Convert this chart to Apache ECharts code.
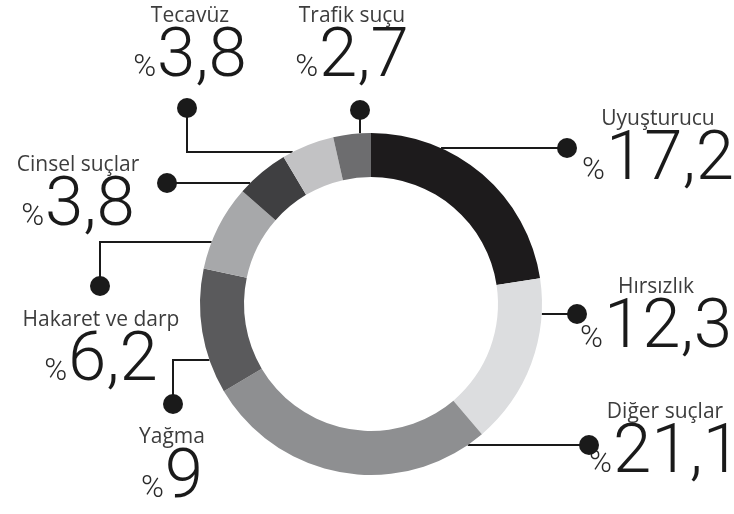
<!DOCTYPE html>
<html>
<head>
<meta charset="utf-8">
<script src="https://cdn.jsdelivr.net/npm/echarts@6/dist/echarts.min.js"></script>
<style>
  html, body { margin: 0; padding: 0; background: #fff; }
  #chart { width: 734px; height: 514px; }
</style>
</head>
<body>
<div id="chart"></div>
<script>
const categories = ['Uyuşturucu', 'Hırsızlık', 'Diğer suçlar', 'Yağma', 'Hakaret ve darp', 'Cinsel suçlar', 'Tecavüz', 'Trafik suçu']
const values = [17.2, 12.3, 21.1, 9, 6.2, 3.8, 3.8, 2.7]
const sliceColors = ['#1d1b1c', '#dcdddf', '#8e8f91', '#5a5a5c', '#a7a8aa', '#3f3f41', '#c2c2c4', '#6d6d6f']

const center = [371, 304]
const outerR = 171
const innerR = 127

// callout layout per slice
// lead: ['h', y, side] -> horizontal line at y meeting the ring on side (1 right, -1 left)
//       ['v', x]       -> vertical line at x meeting the ring at the top
// elbow: optional corner, dot: end of the line, text: [centre x, top y] of the text block
const callouts = [
  { lead: ['h', 148, 1], dot: [567, 148], text: [658, 106] },
  { lead: ['h', 314, 1], dot: [577, 314], text: [656, 274] },
  { lead: ['h', 445, 1], dot: [589, 445], text: [665, 399] },
  { lead: ['h', 360, -1], elbow: [173, 360], dot: [173, 404], text: [172, 424] },
  { lead: ['h', 242, -1], elbow: [100, 242], dot: [100, 286], text: [101, 307] },
  { lead: ['h', 183, -1], dot: [167, 183], text: [78, 152] },
  { lead: ['h', 152, -1], elbow: [187, 152], dot: [187, 108], text: [190, 3] },
  { lead: ['v', 360], dot: [360, 110], text: [352, 3] }
]

const fmt = v => String(v).replace('.', ',')

const attachPoint = lead => {
  if (lead[0] === 'h') {
    const dy = lead[1] - center[1]
    return [center[0] + lead[2] * Math.sqrt(outerR * outerR - dy * dy), lead[1]]
  }
  const dx = lead[1] - center[0]
  return [lead[1], center[1] - Math.sqrt(outerR * outerR - dx * dx)]
}

const pieData = categories.map((name, i) => ({
  name,
  value: values[i],
  itemStyle: { color: sliceColors[i] }
}))

const chart = echarts.init(document.getElementById('chart'))

const option = {
  animation: false,
  series: [
    {
      // ring + leader lines + dots
      type: 'pie',
      center,
      radius: [innerR, outerR],
      startAngle: 90,
      clockwise: true,
      avoidLabelOverlap: false,
      silent: true,
      data: pieData,
      label: {
        show: true,
        formatter: '{d|}',
        rich: {
          d: { width: 20, height: 20, borderRadius: 10, backgroundColor: '#1a1a1a' }
        }
      },
      labelLine: {
        show: true,
        lineStyle: { color: '#1a1a1a', width: 2 }
      },
      labelLayout: params => {
        const c = callouts[params.dataIndex]
        const a = attachPoint(c.lead)
        const mid = c.elbow || c.dot
        return {
          x: c.dot[0],
          y: c.dot[1],
          align: 'center',
          verticalAlign: 'middle',
          labelLinePoints: [a, mid, c.dot]
        }
      }
    },
    {
      // same ring, transparent, only carries the text callouts
      type: 'pie',
      center,
      radius: [innerR, outerR],
      startAngle: 90,
      clockwise: true,
      avoidLabelOverlap: false,
      silent: true,
      z: 1,
      data: categories.map((name, i) => ({ name, value: values[i] })),
      itemStyle: { color: 'transparent' },
      labelLine: { show: false },
      label: {
        show: true,
        align: 'center',
        formatter: p => `{n|${p.name}}\n{p|%}{v|${fmt(p.value)}}`,
        rich: {
          n: {
            fontFamily: 'Open Sans',
            fontSize: 21,
            lineHeight: 26,
            color: '#3d3d3d',
            align: 'center'
          },
          p: {
            fontFamily: 'Roboto',
            fontWeight: 300,
            fontSize: 31,
            lineHeight: 30,
            color: '#2a2a2a',
            verticalAlign: 'bottom',
            padding: [0, 1, 9, 0]
          },
          v: {
            fontFamily: 'Roboto',
            fontWeight: 300,
            fontSize: 69,
            lineHeight: 64,
            color: '#1a1a1a',
            verticalAlign: 'bottom'
          }
        }
      },
      labelLayout: params => {
        const c = callouts[params.dataIndex]
        return { x: c.text[0], y: c.text[1], align: 'center', verticalAlign: 'top' }
      }
    }
  ]
}

chart.setOption(option)
</script>
</body>
</html>
